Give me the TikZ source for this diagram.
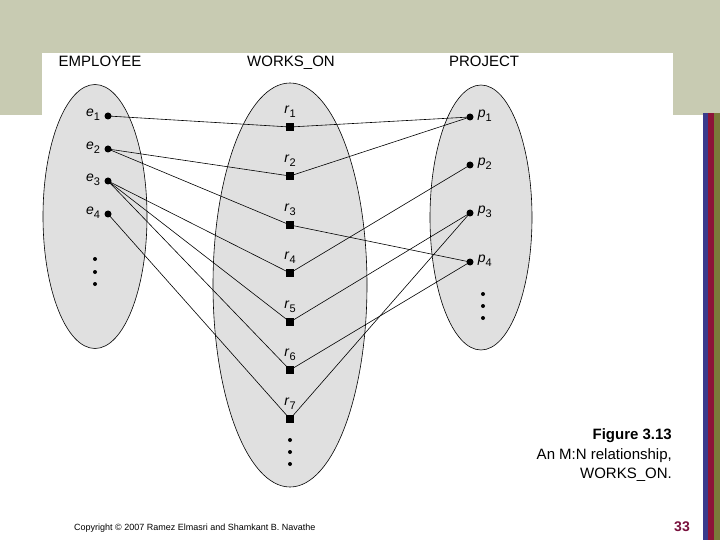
\documentclass[tikz,border=0pt]{standalone}
\usepackage{fontspec}
\setmainfont{Liberation Sans}
\definecolor{band}{RGB}{200,203,178}
\definecolor{setfill}{RGB}{224,224,224}
\definecolor{sblue}{RGB}{58,58,140}
\definecolor{sred}{RGB}{140,20,56}
\definecolor{solive}{RGB}{122,122,58}
\definecolor{pagenum}{RGB}{120,16,60}
\newcommand{\sublbl}[2]{\textit{#1}\raisebox{-4pt}{\fontsize{11}{11}\selectfont #2}}
\tikzset{
  setell/.style={ellipse, draw=black, line width=0.6pt, fill=setfill, inner sep=0pt},
  ent/.style={circle, fill=black, inner sep=0pt, minimum size=7pt},
  rel/.style={rectangle, fill=black, inner sep=0pt, minimum size=8.5pt},
  small/.style={circle, fill=black, inner sep=0pt, minimum size=4pt},
  lbl/.style={font=\fontsize{14}{14}\selectfont, inner sep=0pt},
  title/.style={font=\fontsize{15}{15}\selectfont, inner sep=0pt, anchor=base},
  link/.style={line width=0.6pt}
}
\usetikzlibrary{shapes.geometric}
\begin{document}
\begin{tikzpicture}[x=1pt,y=-1pt]
\useasboundingbox (0,0) rectangle (720,540);
% background
\fill[band] (0,0) rectangle (720,115);
\fill[white] (42,53) rectangle (673,540);
\fill[sblue] (703,113) rectangle (708,540);
\fill[sred] (708,113) rectangle (714,540);
\fill[solive] (714,113) rectangle (720,540);
% titles
\node[title] (tE) at (100,66.5) {EMPLOYEE};
\node[title] (tW) at (291,66.5) {WORKS\_ON};
\node[title] (tP) at (484,66.5) {PROJECT};
% sets
\node[setell, minimum width=104pt, minimum height=264pt] (SE) at (95,216.5) {};
\node[setell, minimum width=154pt, minimum height=404pt] (SW) at (290,285) {};
\node[setell, minimum width=102pt, minimum height=265pt] (SP) at (481,217.5) {};
% employees
\foreach \i/\y in {1/116,2/149,3/181,4/214}{
  \node[ent] (e\i) at (108,\y) {};
  \node[lbl, anchor=east] (le\i) at ([xshift=-4pt,yshift=1pt]e\i.west) {\sublbl{e}{\i}};
}
% relationships
\foreach \i/\y in {1/127,2/176,3/225,4/273,5/322,6/370,7/419}{
  \node[rel] (r\i) at (290,\y) {};
  \node[lbl, anchor=south] (lr\i) at ([yshift=5pt]r\i.north) {\sublbl{r}{\i}};
}
% projects
\foreach \i/\y in {1/117,2/165,3/213,4/262}{
  \node[ent] (p\i) at (470,\y) {};
  \node[lbl, anchor=west] (lp\i) at ([xshift=4pt,yshift=1pt]p\i.east) {\sublbl{p}{\i}};
}
% ellipsis dots
\foreach \y [count=\k] in {259,272,284}{\node[small] (de\k) at (95,\y) {};}
\foreach \y [count=\k] in {440,452,464}{\node[small] (dr\k) at (290,\y) {};}
\foreach \y [count=\k] in {294,306,318}{\node[small] (dp\k) at (483,\y) {};}
% links
\draw[link] (e1.center) -- (r1.center) -- (p1.center);
\draw[link] (e2.center) -- (r2.center) -- (p1.center);
\draw[link] (e2.center) -- (r3.center) -- (p4.center);
\draw[link] (e3.center) -- (r4.center) -- (p2.center);
\draw[link] (e3.center) -- (r5.center) -- (p3.center);
\draw[link] (e3.center) -- (r6.center) -- (p4.center);
\draw[link] (e4.center) -- (r7.center) -- (p3.center);
% caption
\node[font=\fontsize{15}{15}\selectfont\bfseries, anchor=east, inner sep=0pt] (cap1) at (672,436) {Figure 3.13};
\node[font=\fontsize{15}{15}\selectfont, anchor=east, inner sep=0pt] (cap2) at (672,456) {An M:N relationship,};
\node[font=\fontsize{15}{15}\selectfont, anchor=east, inner sep=0pt] (cap3) at (672,475) {WORKS\_ON.};
\node[font=\fontsize{9}{9}\selectfont, anchor=west, inner sep=0pt] (copy) at (74,528) {Copyright © 2007 Ramez Elmasri and Shamkant B. Navathe};
\node[font=\fontsize{14}{14}\selectfont\bfseries, text=pagenum, anchor=east, inner sep=0pt] (pg) at (690,527) {33};
\end{tikzpicture}
\end{document}
